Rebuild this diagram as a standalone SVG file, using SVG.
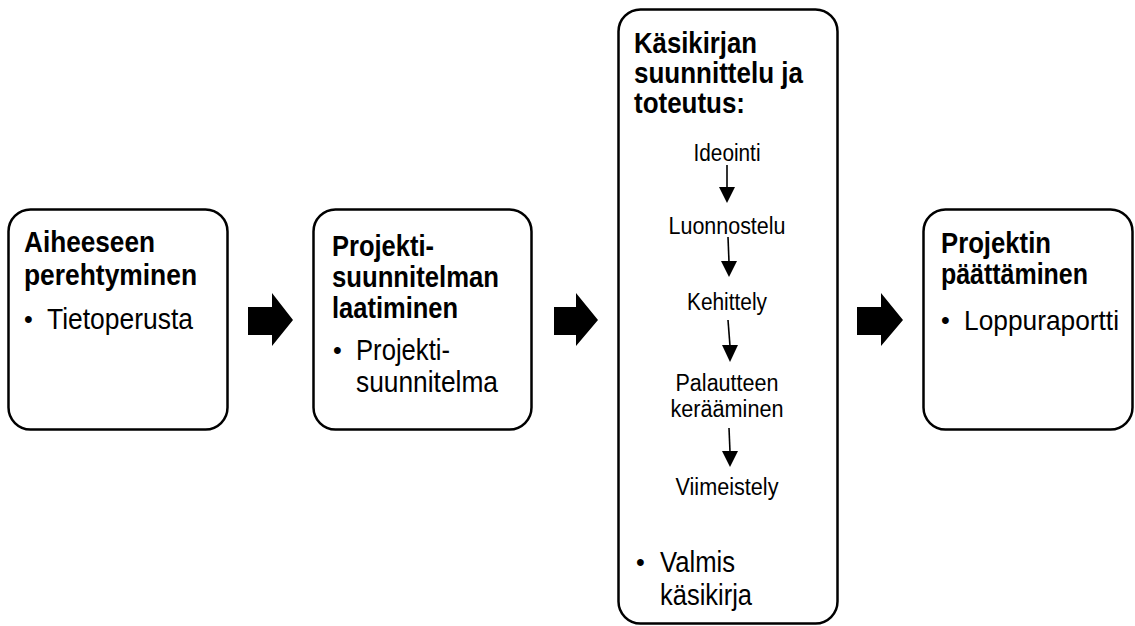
<svg xmlns="http://www.w3.org/2000/svg" width="1135" height="626" viewBox="0 0 1135 626">
<style>
.box{fill:#fff;stroke:#000;stroke-width:2.5}
.h{font-family:"Liberation Sans",Arial,sans-serif;font-weight:bold;font-size:30px;fill:#000}
.b{font-family:"Liberation Sans",Arial,sans-serif;font-size:30px;fill:#000}
.d{font-family:"Liberation Sans",Arial,sans-serif;font-size:25px;fill:#000}
.s{font-family:"Liberation Sans",Arial,sans-serif;font-size:23px;fill:#000;text-anchor:middle}
.blk{fill:#000}
.ln{stroke:#000;stroke-width:1.6;fill:none}
</style>
<rect width="1135" height="626" fill="#fff"/>
<g id="node1">
<rect class="box" x="8.5" y="209.5" width="219" height="220" rx="22"/>
<text class="h" x="24" y="252" textLength="131" lengthAdjust="spacingAndGlyphs">Aiheeseen</text>
<text class="h" x="24" y="285" textLength="173" lengthAdjust="spacingAndGlyphs">perehtyminen</text>
<text class="d" x="24" y="328">•</text>
<text class="b" x="47" y="329" textLength="146" lengthAdjust="spacingAndGlyphs">Tietoperusta</text>
</g>
<g id="node2">
<rect class="box" x="313.5" y="209.5" width="218" height="220" rx="22"/>
<text class="h" x="332" y="256" textLength="102" lengthAdjust="spacingAndGlyphs">Projekti-</text>
<text class="h" x="332" y="287" textLength="167" lengthAdjust="spacingAndGlyphs">suunnitelman</text>
<text class="h" x="332" y="318" textLength="126" lengthAdjust="spacingAndGlyphs">laatiminen</text>
<text class="d" x="333" y="359">•</text>
<text class="b" x="356" y="360" textLength="94" lengthAdjust="spacingAndGlyphs">Projekti-</text>
<text class="b" x="356" y="392" textLength="142" lengthAdjust="spacingAndGlyphs">suunnitelma</text>
</g>
<g id="node3">
<rect class="box" x="618.5" y="9.5" width="219" height="614" rx="22"/>
<text class="h" x="634" y="53" textLength="123" lengthAdjust="spacingAndGlyphs">Käsikirjan</text>
<text class="h" x="634" y="83" textLength="169" lengthAdjust="spacingAndGlyphs">suunnittelu ja</text>
<text class="h" x="634" y="113" textLength="111" lengthAdjust="spacingAndGlyphs">toteutus:</text>
<text class="s" x="727" y="161" textLength="67" lengthAdjust="spacingAndGlyphs">Ideointi</text>
<text class="s" x="727" y="234" textLength="117" lengthAdjust="spacingAndGlyphs">Luonnostelu</text>
<text class="s" x="727" y="310" textLength="80" lengthAdjust="spacingAndGlyphs">Kehittely</text>
<text class="s" x="727" y="391" textLength="103" lengthAdjust="spacingAndGlyphs">Palautteen</text>
<text class="s" x="727" y="417" textLength="113" lengthAdjust="spacingAndGlyphs">kerääminen</text>
<text class="s" x="727" y="495" textLength="103" lengthAdjust="spacingAndGlyphs">Viimeistely</text>
<text class="d" x="636" y="571">•</text>
<text class="b" x="660" y="572" textLength="75" lengthAdjust="spacingAndGlyphs">Valmis</text>
<text class="b" x="660" y="605" textLength="92" lengthAdjust="spacingAndGlyphs">käsikirja</text>
</g>
<g id="node4">
<rect class="box" x="923.5" y="209.5" width="209" height="220" rx="22"/>
<text class="h" x="941" y="253" textLength="110" lengthAdjust="spacingAndGlyphs">Projektin</text>
<text class="h" x="941" y="284" textLength="147" lengthAdjust="spacingAndGlyphs">päättäminen</text>
<text class="d" x="941" y="329">•</text>
<text class="b" x="964" y="330" style="font-size:28px" textLength="155" lengthAdjust="spacingAndGlyphs">Loppuraportti</text>
</g>
<g id="connectors">
<polygon class="blk" points="248,307 272,307 272,293 293,320 272,346 272,335 248,335"/>
<polygon class="blk" points="554,307 576,307 576,293 598,320 576,346 576,335 554,335"/>
<polygon class="blk" points="857,307 881,307 881,293 903,320 881,346 881,335 857,335"/>
<line class="ln" x1="727" y1="165" x2="727" y2="188"/>
<polygon class="blk" points="719,187 735,187 727,203"/>
<line class="ln" x1="728" y1="237" x2="729" y2="262"/>
<polygon class="blk" points="721,261 737,261 729,277"/>
<line class="ln" x1="728" y1="320" x2="730" y2="346"/>
<polygon class="blk" points="722,345 738,345 730,362"/>
<line class="ln" x1="729" y1="428" x2="730" y2="452"/>
<polygon class="blk" points="722,451 738,451 730,467"/>
</g>
</svg>
